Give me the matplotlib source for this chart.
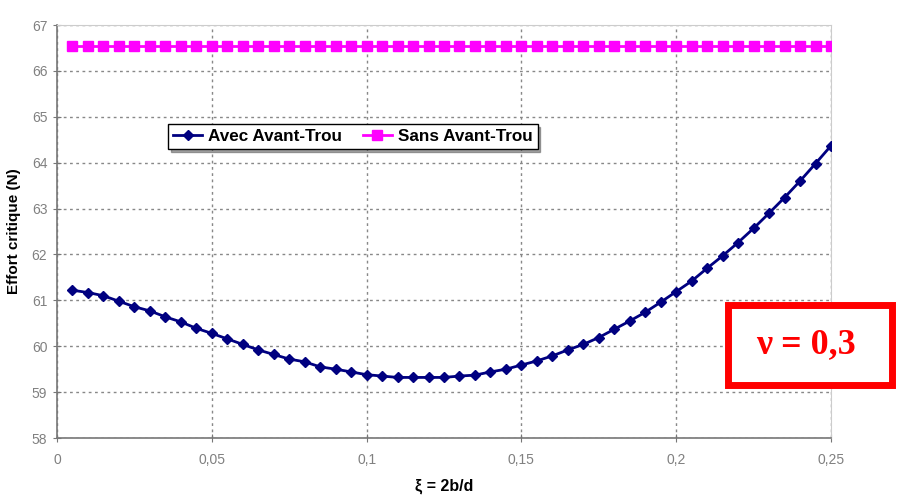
import matplotlib
matplotlib.use("Agg")
import matplotlib.pyplot as plt
from matplotlib.ticker import FuncFormatter, MultipleLocator
from matplotlib.patches import Rectangle

xi = [0.005 * (i + 1) for i in range(50)]
avec = [61.22, 61.17, 61.10, 60.98, 60.86, 60.77, 60.64, 60.53, 60.39, 60.28,
        60.16, 60.04, 59.92, 59.82, 59.72, 59.66, 59.55, 59.50, 59.44, 59.38,
        59.35, 59.32, 59.32, 59.32, 59.32, 59.35, 59.37, 59.44, 59.50, 59.59,
        59.68, 59.79, 59.92, 60.04, 60.19, 60.37, 60.55, 60.74, 60.96, 61.19,
        61.42, 61.70, 61.97, 62.26, 62.57, 62.90, 63.24, 63.60, 63.98, 64.37]
sans = [66.55] * 50
labels = ["Avec Avant-Trou", "Sans Avant-Trou"]

plt.rcParams['font.family'] = ['Liberation Sans', 'DejaVu Sans']
fig = plt.figure(figsize=(9, 4.98), dpi=100)
ax = fig.add_axes([57/900, 1-438/498, (831-57)/900, (438-25)/498])

ax.plot(xi, avec, color='#000080', lw=2, marker='D', ms=5, label=labels[0], zorder=3)
ax.plot(xi, sans, color='#FF00FF', lw=2, marker='s', ms=6.5, label=labels[1], zorder=3)

ax.set_xlim(0, 0.25)
ax.set_ylim(58, 67)
ax.xaxis.set_major_locator(MultipleLocator(0.05))
ax.yaxis.set_major_locator(MultipleLocator(1))
ax.xaxis.set_major_formatter(FuncFormatter(lambda v, p: ('%g' % round(v, 3)).replace('.', ',')))
ax.yaxis.set_major_formatter(FuncFormatter(lambda v, p: '%d' % round(v)))
ax.grid(True, color='#888888', linestyle=(0, (2, 2.5)), linewidth=1)
for s in ['top', 'right']:
    ax.spines[s].set_color('#cccccc')
for s in ['left', 'bottom']:
    ax.spines[s].set_color('#777777')
    ax.spines[s].set_linewidth(1.2)
ax.tick_params(direction='inout', length=6, color='#777777', labelcolor='#808080', labelsize=10)
ax.tick_params(axis='x', pad=8)
ax.tick_params(axis='y', pad=4)

ax.set_xlabel('ξ = 2b/d', fontweight='bold', fontsize=11.5, labelpad=8)
ax.set_ylabel('Effort critique (N)', fontweight='bold', fontsize=11, labelpad=8)

leg = ax.legend(loc='upper left', bbox_to_anchor=((168-57)/774, (438-124)/413), ncol=2,
                frameon=True, fancybox=False, shadow=True, edgecolor='black',
                prop={'weight': 'bold', 'size': 12.3}, handlelength=1.7,
                handletextpad=0.35, columnspacing=1.2, borderpad=0.3, borderaxespad=0)
leg.get_frame().set_linewidth(1)

fig.patches.append(Rectangle((728/900, 1-385/498), (892-728)/900, (385-305)/498,
                             transform=fig.transFigure, fill=True, facecolor='white',
                             edgecolor='#FF0000', linewidth=5, zorder=5))
fig.text(806/900, 1-345/498, 'ν = 0,3', color='#FF0000', fontsize=26, fontweight='bold',
         family='Liberation Serif', ha='center', va='center', zorder=6)

fig.savefig('out.png', dpi=100)
